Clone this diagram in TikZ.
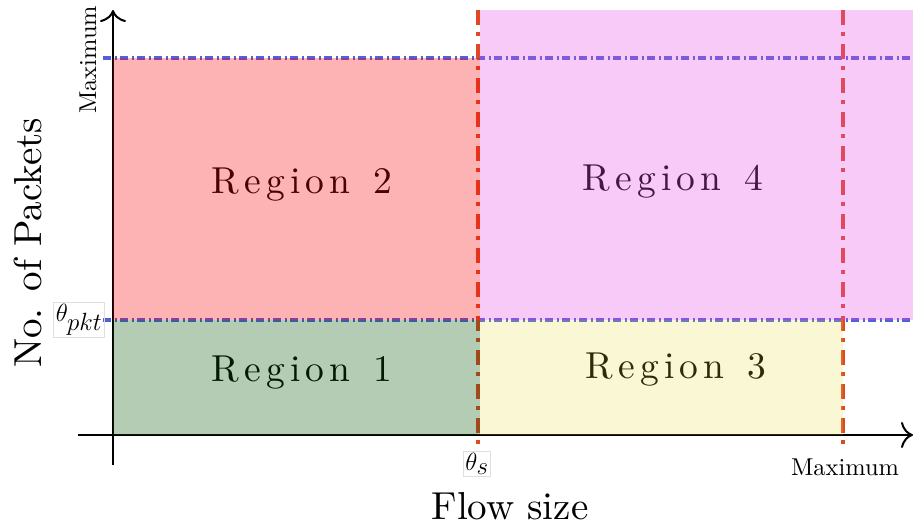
\documentclass[tikz,border=0pt]{standalone}
\usepackage{fontspec}
\setmainfont{lmroman10-regular.otf}
\usetikzlibrary{arrows.meta}
\definecolor{regred}{RGB}{248,2,2}
\definecolor{reggreen}{RGB}{8,85,8}
\definecolor{regpink}{RGB}{232,78,232}
\definecolor{regyellow}{RGB}{230,220,40}
\definecolor{vline}{RGB}{222,72,36}
\definecolor{hline}{RGB}{82,96,222}
\newcommand\lsp{\kern5.3pt}
\newcommand\regtext[1]{R\lsp e\lsp g\lsp i\lsp o\lsp n\lsp\ \lsp #1}
\tikzset{
  axis/.style={line width=2pt,-{To[length=12pt,width=26pt]}},
  vdash/.style={vline,line width=3.5pt,dash pattern=on 15pt off 7pt on 4pt off 8pt},
  hdash/.style={hline,line width=3.5pt,dash pattern=on 8pt off 3.5pt on 2pt off 3.5pt},
  regfill/.style={fill opacity=0.3},
  regionlabel/.style={font=\fontsize{37.5}{42}\selectfont,text=black},
  biglabel/.style={font=\fontsize{39}{44}\selectfont},
  smalllabel/.style={font=\fontsize{24.4}{27}\selectfont},
  thetalabel/.style={font=\fontsize{33}{37}\selectfont,draw=gray!25,line width=0.8pt,inner sep=2pt}
}
\begin{document}
\begin{tikzpicture}[x=1pt,y=-1pt]
\useasboundingbox (0,0) rectangle (913,530);
% coordinates
\coordinate (ybot) at (113,465);
\coordinate (ytop) at (113,10);
\coordinate (xl) at (78,435);
\coordinate (xr) at (913,435);
\coordinate (s1) at (478,10);
\coordinate (s2) at (478,445);
\coordinate (m1) at (843,10);
\coordinate (m2) at (843,445);
\coordinate (h1a) at (103,58);
\coordinate (h1b) at (913,58);
\coordinate (h2a) at (103,320);
\coordinate (h2b) at (913,320);
% axes
\draw[axis] (ybot) -- (ytop);
\draw[axis] (xl) -- (xr);
% threshold lines
\draw[hdash] (h1a) -- (h1b);
\draw[hdash] (h2a) -- (h2b);
\draw[vdash] (s1) -- (s2);
\draw[vdash] (m1) -- (m2);
% region labels
\node[regionlabel] (r2) at (302,185) {\regtext{2}};
\node[regionlabel] (r4) at (673,182) {\regtext{4}};
\node[regionlabel] (r1) at (302,373) {\regtext{1}};
\node[regionlabel] (r3) at (676,370) {\regtext{3}};
% translucent region fills (on top)
\fill[regfill,regred] (113,58) rectangle (480,320);
\fill[regfill,reggreen] (113,320) rectangle (480,435);
\fill[regfill,regpink] (480,10) rectangle (913,320);
\fill[regfill,regyellow,fill opacity=0.2] (480,320) rectangle (843,435);
% axis labels
\node[biglabel,rotate=90] (ylab) at (28,243) {No. of Packets};
\node[biglabel] (xlab) at (510,506) {Flow size};
\node[smalllabel,rotate=90] (ymax) at (88,60) {Maximum};
\node[smalllabel] (xmax) at (845,467) {Maximum};
\node[thetalabel] (tpkt) at (79,320) {$\theta_{pkt}$};
\node[thetalabel] (ts) at (477,464) {$\theta_s$};
\end{tikzpicture}
\end{document}
